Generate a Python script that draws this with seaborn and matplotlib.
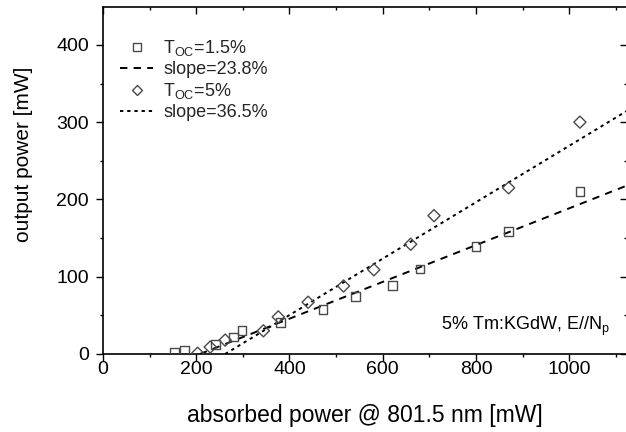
import matplotlib
matplotlib.use("Agg")
import matplotlib.pyplot as plt
from matplotlib.lines import Line2D
from matplotlib.ticker import MultipleLocator
import numpy as np
import pandas as pd
import seaborn as sns

# ---- data ----
sq_x = [153, 174, 241, 280, 298, 381, 472, 541, 621, 680, 800, 870, 1023]
sq_y = [2, 5, 12, 22, 30, 41, 58, 74, 89, 110, 139, 159, 210]
di_x = [203, 230, 262, 344, 376, 440, 516, 581, 660, 710, 870, 1023]
di_y = [1, 9, 18, 30, 48, 67, 88, 109, 142, 179, 215, 300]
fit_slopes = [0.238, 0.365]
fit_thresholds = [208, 262]
fit_xmax = 1130
series_labels = ["T$_{\\mathrm{OC}}$=1.5%", "slope=23.8%", "T$_{\\mathrm{OC}}$=5%", "slope=36.5%"]
xticks = [0, 200, 400, 600, 800, 1000]
yticks = [0, 100, 200, 300, 400]

sns.set_theme(style="ticks")
plt.rcParams["font.family"] = ["Liberation Sans", "DejaVu Sans"]
plt.rcParams["mathtext.fontset"] = "custom"
plt.rcParams["mathtext.rm"] = "Liberation Sans"
plt.rcParams["mathtext.it"] = "Liberation Sans:italic"
plt.rcParams["mathtext.bf"] = "Liberation Sans:bold"

W, H = 626, 432
fig = plt.figure(figsize=(W / 100, H / 100), dpi=100)
ax_l, ax_b, ax_w, ax_h = 103, 78, 524, 347
ax = fig.add_axes([ax_l / W, ax_b / H, ax_w / W, ax_h / H])

df_sq = pd.DataFrame({"x": sq_x, "y": sq_y})
df_di = pd.DataFrame({"x": di_x, "y": di_y})

edge = "#4a4a4a"
sns.scatterplot(data=df_sq, x="x", y="y", marker="s", s=40, facecolor="none",
                edgecolor=edge, linewidth=1.0, ax=ax, zorder=3)
sns.scatterplot(data=df_di, x="x", y="y", marker="D", s=38, facecolor="none",
                edgecolor=edge, linewidth=1.0, ax=ax, zorder=3)

styles = [(0, (3.8, 3.2)), (0, (1.7, 2.0))]
for slope, thr, ls in zip(fit_slopes, fit_thresholds, styles):
    fx = np.array([thr, fit_xmax], dtype=float)
    fdf = pd.DataFrame({"x": fx, "y": slope * (fx - thr)})
    sns.lineplot(data=fdf, x="x", y="y", ax=ax, color="black", linewidth=1.4,
                 linestyle=ls, zorder=2)

ax.set_xlim(0, 1124)
ax.set_ylim(0, 449)
ax.set_xticks(xticks)
ax.set_yticks(yticks)
ax.xaxis.set_minor_locator(MultipleLocator(100))
ax.yaxis.set_minor_locator(MultipleLocator(50))

for s in ax.spines.values():
    s.set_color("black")
    s.set_linewidth(1.2)

ax.tick_params(axis="both", which="major", labelsize=14, colors="black",
               width=1.0, length=5, direction="out")
ax.tick_params(axis="both", which="minor", width=1.0, length=2.5, colors="black",
               direction="out")
ax.tick_params(axis="x", which="major", pad=0)
ax.tick_params(axis="y", which="major", pad=5)
ax.tick_params(axis="x", which="both", top=True)
ax.tick_params(axis="y", which="both", right=True)
for tk in ax.xaxis.get_major_ticks() + ax.xaxis.get_minor_ticks():
    tk.tick2line.set_marker(3)  # pointing down (inward) on the top spine
for tk in ax.yaxis.get_major_ticks() + ax.yaxis.get_minor_ticks():
    tk.tick2line.set_marker(0)  # pointing left (inward) on the right spine

ax.set_xlabel("absorbed power @ 801.5 nm [mW]", fontsize=16.5, color="black")
ax.set_ylabel("output power [mW]", fontsize=15, color="black")
ax.xaxis.set_label_coords(0.5, -(404 - 354) / ax_h)
ax.yaxis.set_label_coords((33 - ax_l) / ax_w, (354 - 154) / ax_h)

handles = [
    Line2D([], [], marker="s", linestyle="none", markersize=6.0, markerfacecolor="none",
           markeredgecolor=edge, markeredgewidth=1.0),
    Line2D([], [], color="black", linewidth=1.4, linestyle=styles[0]),
    Line2D([], [], marker="D", linestyle="none", markersize=5.6, markerfacecolor="none",
           markeredgecolor=edge, markeredgewidth=1.0),
    Line2D([], [], color="black", linewidth=1.4, linestyle=styles[1]),
]
ax.legend(handles, series_labels, loc="upper left",
          bbox_to_anchor=((120 - ax_l) / ax_w, (354 - 38) / ax_h),
          frameon=False, fontsize=13, handlelength=1.85, handletextpad=0.55,
          labelspacing=0.17, borderaxespad=0, borderpad=0)

ax.text((610 - ax_l) / ax_w, (354 - 330) / ax_h, "5% Tm:KGdW, E//N$_{\\mathrm{p}}$",
        transform=ax.transAxes, ha="right", va="baseline", fontsize=13, color="black")

fig.savefig("out.png", dpi=100)
